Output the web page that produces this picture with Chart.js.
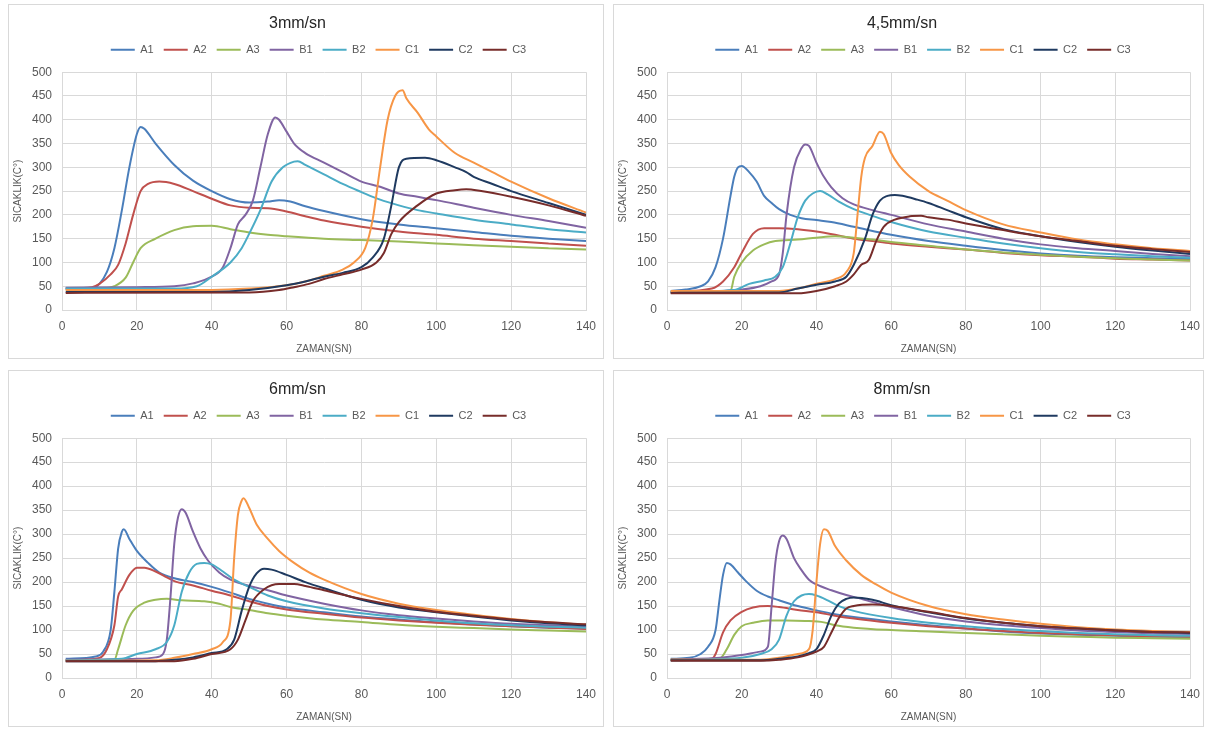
<!DOCTYPE html>
<html>
<head>
<meta charset="utf-8">
<script src="https://cdn.jsdelivr.net/npm/chart.js@4.4.1/dist/chart.umd.min.js"></script>
<style>
  body { margin: 0; background: #fff; width: 1208px; height: 729px; position: relative; overflow: hidden; }
  .panel { position: absolute; border: 1px solid #d9d9d9; background: #fff; }
  .panel canvas { display: block; }
</style>
</head>
<body>
<div class="panel" id="p0" style="left:8px;top:4px;width:594px;height:353px"><canvas id="c0"></canvas></div>
<div class="panel" id="p1" style="left:613px;top:4px;width:589px;height:353px"><canvas id="c1"></canvas></div>
<div class="panel" id="p2" style="left:8px;top:370px;width:594px;height:355px"><canvas id="c2"></canvas></div>
<div class="panel" id="p3" style="left:613px;top:370px;width:589px;height:355px"><canvas id="c3"></canvas></div>
<script>
// series names and colours (Excel palette)
var seriesNames = ['A1', 'A2', 'A3', 'B1', 'B2', 'C1', 'C2', 'C3'];
var seriesColors = ['#4a7ebb', '#c0504d', '#9bbb59', '#8064a2', '#4bacc6', '#f79646', '#1f3a60', '#772c2a'];
var panelTitles = ['3mm/sn', '4,5mm/sn', '6mm/sn', '8mm/sn'];

// 3mm/sn  -> [zaman (sn), sicaklik]
var v3_A1 = [[1,45],[8,46],[10,55],[12,80],[14,130],[16,210],[18,300],[20,370],[21,385],[22,381],[25,350],[30,305],[35,272],[40,250],[45,233],[50,226],[55,228],[58,231],[61,228],[65,218],[70,208],[80,191],[90,180],[100,172],[110,164],[120,156],[130,150],[140,145]];
var v3_A2 = [[1,45],[8,48],[10,55],[13,75],[15,95],[17,140],[19,200],[21,250],[23,265],[26,270],[30,265],[35,250],[40,234],[45,220],[50,215],[55,214],[60,207],[65,197],[70,188],[80,175],[90,165],[100,158],[110,150],[120,145],[130,140],[140,135]];
var v3_A3 = [[1,43],[10,45],[14,50],[17,68],[19,100],[21,130],[25,150],[30,168],[35,176],[40,177],[45,170],[50,163],[55,158],[60,155],[70,150],[80,147],[90,144],[100,140],[110,136],[120,133],[130,130],[140,127]];
var v3_B1 = [[1,47],[20,48],[30,50],[35,56],[40,70],[43,90],[45,130],[47,180],[49,200],[51,230],[53,300],[55,370],[57,405],[58,400],[60,375],[62,350],[65,330],[70,310],[75,290],[80,270],[85,259],[90,245],[95,238],[100,231],[110,215],[120,200],[130,187],[140,173]];
var v3_B2 = [[1,45],[30,45],[36,50],[40,70],[45,100],[48,130],[50,160],[53,210],[56,270],[59,300],[62,312],[63,313],[65,305],[70,285],[75,265],[80,248],[85,232],[90,220],[95,210],[100,203],[110,190],[120,180],[130,170],[140,163]];
var v3_C1 = [[1,42],[40,42],[50,45],[60,52],[65,60],[70,72],[75,85],[78,100],[81,130],[83,190],[85,300],[87,400],[89,450],[91,462],[92,445],[95,415],[98,380],[100,365],[105,330],[110,310],[115,290],[120,270],[130,235],[140,205]];
var v3_C2 = [[1,38],[40,38],[50,42],[60,52],[65,60],[70,70],[75,78],[80,90],[83,110],[86,150],[88,220],[90,300],[92,318],[97,320],[100,315],[105,300],[108,290],[110,280],[115,265],[120,250],[130,225],[140,200]];
var v3_C3 = [[1,36],[50,37],[58,42],[62,48],[66,55],[70,65],[75,75],[80,85],[84,100],[86,120],[88,160],[90,185],[95,220],[100,245],[105,252],[108,254],[112,250],[120,238],[130,220],[140,198]];

// 4,5mm/sn
var v45_A1 = [[1,40],[5,43],[9,50],[11,60],[13,90],[15,150],[17,240],[18,280],[19,300],[20,303],[22,290],[24,270],[26,240],[28,225],[30,212],[33,200],[36,193],[40,189],[44,185],[50,175],[60,158],[70,145],[80,135],[90,126],[100,119],[110,114],[120,111],[130,109],[140,107]];
var v45_A2 = [[1,38],[12,45],[15,60],[18,90],[20,120],[23,160],[26,172],[30,172],[35,170],[40,165],[45,158],[50,150],[55,145],[60,140],[70,133],[80,127],[90,120],[100,115],[110,112],[120,108],[130,106],[140,104]];
var v45_A3 = [[1,38],[17,40],[18,70],[20,100],[23,125],[26,138],[29,145],[35,148],[40,152],[45,155],[50,152],[55,148],[60,143],[70,135],[80,127],[90,121],[100,116],[110,112],[120,109],[130,106],[140,104]];
var v45_B1 = [[1,38],[15,40],[20,43],[25,50],[28,60],[30,75],[31,120],[32,200],[34,300],[36,340],[37,348],[38,345],[40,310],[42,280],[44,258],[47,235],[50,222],[55,210],[60,200],[70,180],[80,165],[90,150],[100,138],[110,130],[120,124],[130,118],[140,113]];
var v45_B2 = [[1,38],[18,42],[22,55],[26,62],[29,70],[31,90],[33,140],[35,195],[37,230],[39,245],[41,250],[43,243],[46,228],[50,212],[55,198],[60,185],[70,165],[80,152],[90,140],[100,130],[110,122],[120,117],[130,113],[140,110]];
var v45_C1 = [[1,40],[30,40],[35,45],[40,55],[45,65],[48,80],[50,120],[51,200],[52,280],[53,320],[55,345],[57,375],[58,370],[60,330],[62,305],[65,280],[70,250],[75,230],[80,210],[90,180],[100,163],[110,148],[120,138],[130,130],[140,124]];
var v45_C2 = [[1,36],[30,37],[35,45],[40,53],[45,60],[48,70],[50,95],[53,150],[55,200],[57,230],[59,240],[61,242],[63,240],[67,232],[70,225],[75,210],[80,195],[90,170],[100,155],[110,143],[120,133],[130,125],[140,118]];
var v45_C3 = [[1,35],[35,35],[40,40],[45,50],[48,60],[50,75],[52,95],[54,105],[56,145],[58,175],[61,190],[65,197],[68,198],[70,195],[75,190],[80,182],[90,168],[100,155],[110,145],[120,135],[130,128],[140,122]];

// 6mm/sn
var v6_A1 = [[1,40],[9,45],[11,55],[13,100],[14,180],[15,270],[16,305],[16.5,310],[18,290],[20,265],[23,240],[26,220],[30,208],[35,200],[40,190],[45,178],[50,165],[55,155],[60,147],[70,137],[80,128],[90,122],[100,116],[110,112],[120,108],[130,105],[140,103]];
var v6_A2 = [[1,37],[10,42],[12,60],[14,110],[15,170],[16,185],[18,215],[20,230],[22,230],[25,222],[28,210],[30,202],[35,193],[40,182],[45,172],[50,160],[55,150],[60,143],[70,134],[80,126],[90,120],[100,115],[110,111],[120,108],[130,105],[140,102]];
var v6_A3 = [[1,37],[14,38],[15,60],[17,110],[19,140],[22,157],[25,163],[28,165],[32,162],[38,160],[42,155],[45,148],[50,142],[55,135],[60,130],[70,122],[80,117],[90,111],[100,107],[110,104],[120,101],[130,99],[140,97]];
var v6_B1 = [[1,38],[20,40],[25,43],[27,50],[28,80],[29,170],[30,280],[31,335],[32,352],[33,345],[35,305],[37,270],[39,245],[42,220],[45,205],[50,192],[55,183],[60,172],[70,155],[80,141],[90,131],[100,124],[110,118],[120,113],[130,110],[140,107]];
var v6_B2 = [[1,37],[16,40],[20,50],[25,60],[28,75],[30,110],[32,180],[34,220],[36,238],[38,240],[40,237],[43,222],[46,205],[50,190],[55,172],[60,160],[70,145],[80,135],[90,127],[100,120],[110,114],[120,110],[130,107],[140,105]];
var v6_C1 = [[1,36],[25,37],[30,42],[35,50],[40,60],[43,75],[45,120],[46,250],[47,340],[48,370],[48.5,375],[50,355],[52,320],[55,290],[58,265],[62,240],[66,220],[70,205],[80,175],[90,155],[100,142],[110,132],[120,123],[130,116],[140,111]];
var v6_C2 = [[1,35],[25,35],[30,38],[35,43],[40,52],[44,60],[46,80],[48,140],[50,190],[52,218],[54,228],[56,226],[60,215],[65,200],[70,187],[80,163],[90,147],[100,137],[110,128],[120,120],[130,114],[140,110]];
var v6_C3 = [[1,35],[30,35],[35,40],[40,50],[45,60],[47,80],[49,120],[51,160],[54,185],[58,196],[62,196],[65,192],[70,183],[80,165],[90,150],[100,138],[110,130],[120,122],[130,116],[140,112]];

// 8mm/sn
var v8_A1 = [[1,40],[6,42],[9,50],[11,65],[13,100],[14,160],[15,215],[16,240],[17,237],[19,220],[21,203],[24,182],[27,170],[30,162],[35,150],[40,141],[45,133],[50,127],[60,118],[70,110],[80,103],[90,97],[100,93],[110,90],[120,88],[130,86],[140,85]];
var v8_A2 = [[1,38],[12,40],[13,50],[15,95],[17,120],[20,138],[23,147],[27,150],[30,148],[35,142],[40,137],[45,130],[50,124],[60,115],[70,108],[80,103],[90,98],[100,94],[110,91],[120,89],[130,87],[140,86]];
var v8_A3 = [[1,38],[14,40],[16,60],[18,90],[20,108],[23,115],[27,120],[32,120],[37,119],[42,116],[45,110],[50,105],[60,100],[70,97],[80,94],[90,91],[100,88],[110,86],[120,84],[130,83],[140,82]];
var v8_B1 = [[1,38],[15,43],[20,48],[25,55],[27,65],[28,150],[29,240],[30,285],[31,297],[32,290],[34,250],[36,225],[38,205],[40,195],[44,183],[48,173],[52,165],[60,148],[70,130],[80,118],[90,110],[100,104],[110,99],[120,96],[130,93],[140,92]];
var v8_B2 = [[1,37],[20,42],[25,50],[28,60],[30,80],[32,130],[34,160],[36,172],[38,175],[40,172],[43,162],[46,150],[50,140],[60,125],[70,115],[80,108],[90,102],[100,98],[110,94],[120,91],[130,89],[140,88]];
var v8_C1 = [[1,38],[25,38],[30,42],[35,50],[38,60],[39,100],[40,200],[41,280],[42,310],[43,307],[45,275],[48,245],[52,215],[56,195],[60,178],[70,150],[80,133],[90,122],[100,113],[110,106],[120,101],[130,98],[140,96]];
var v8_C2 = [[1,37],[25,37],[30,40],[35,45],[38,52],[40,60],[42,90],[44,130],[46,155],[48,165],[50,168],[55,163],[60,152],[70,137],[80,124],[90,115],[100,108],[110,103],[120,99],[130,96],[140,94]];
var v8_C3 = [[1,36],[25,36],[30,38],[35,43],[40,55],[42,65],[44,95],[46,125],[48,145],[50,150],[55,153],[60,150],[70,138],[80,125],[90,115],[100,108],[110,103],[120,99],[130,96],[140,95]];

var panels = [
  [v3_A1, v3_A2, v3_A3, v3_B1, v3_B2, v3_C1, v3_C2, v3_C3],
  [v45_A1, v45_A2, v45_A3, v45_B1, v45_B2, v45_C1, v45_C2, v45_C3],
  [v6_A1, v6_A2, v6_A3, v6_B1, v6_B2, v6_C1, v6_C2, v6_C3],
  [v8_A1, v8_A2, v8_A3, v8_B1, v8_B2, v8_C1, v8_C2, v8_C3]
];

var FONT = "'Liberation Sans', Arial, sans-serif";
var gridCol = '#d9d9d9';
var textCol = '#595959';
var rightPad = [17, 13, 17, 13];

// a bit more room below the legend, and legend sits a little right of centre (as in Excel)
var legendGap = {
  id: 'legendGap',
  beforeInit: function (chart) {
    var fit = chart.legend.fit;
    chart.legend.fit = function () {
      fit.call(this);
      this.height += 7;
    };
  },
  afterLayout: function (chart) {
    chart.legend.left += 21;
    chart.legend.right += 21;
  }
};

for (var p = 0; p < panels.length; p++) {
  var ds = [];
  for (var i = 0; i < seriesNames.length; i++) {
    ds.push({
      label: seriesNames[i],
      data: panels[p][i],
      borderColor: seriesColors[i],
      backgroundColor: seriesColors[i],
      borderWidth: 2,
      pointRadius: 0,
      pointStyle: 'line',
      cubicInterpolationMode: 'monotone',
      order: seriesNames.length - i
    });
  }
  var box = document.getElementById('p' + p);
  var cv = document.getElementById('c' + p);
  cv.width = box.clientWidth;
  cv.height = box.clientHeight;
  new Chart(cv.getContext('2d'), {
    type: 'line',
    data: { datasets: ds },
    plugins: [legendGap],
    options: {
      responsive: false,
      animation: false,
      layout: { padding: { top: 0, right: rightPad[p], bottom: 3, left: 0 } },
      plugins: {
        title: {
          display: true,
          text: panelTitles[p],
          color: '#262626',
          font: { family: FONT, size: 16, weight: 'normal' },
          padding: { top: 9, bottom: 1 }
        },
        legend: {
          reverse: true,
          labels: {
            usePointStyle: true,
            pointStyleWidth: 24,
            color: textCol,
            font: { family: FONT, size: 11 },
            padding: 10
          }
        },
        tooltip: { enabled: false }
      },
      scales: {
        x: {
          type: 'linear',
          min: 0,
          max: 140,
          border: { color: gridCol },
          grid: { color: gridCol, drawTicks: false },
          ticks: { stepSize: 20, color: textCol, font: { family: FONT, size: 12 }, padding: 9 },
          title: { display: true, text: 'ZAMAN(SN)', color: textCol, font: { family: FONT, size: 10 }, padding: { top: 4, bottom: 0 } },
          afterFit: function (s) { s.height = 45; s.paddingLeft = 0; s.paddingRight = 0; }
        },
        y: {
          min: 0,
          max: 500,
          border: { color: gridCol },
          grid: { color: gridCol, drawTicks: false },
          ticks: { stepSize: 50, color: textCol, font: { family: FONT, size: 12 }, padding: 10 },
          title: { display: true, text: 'SICAKLIK(C°)', color: textCol, font: { family: FONT, size: 10 }, padding: { top: 3, bottom: 0 } },
          afterFit: function (s) { s.width = 53; }
        }
      }
    }
  });
}
</script>
</body>
</html>
